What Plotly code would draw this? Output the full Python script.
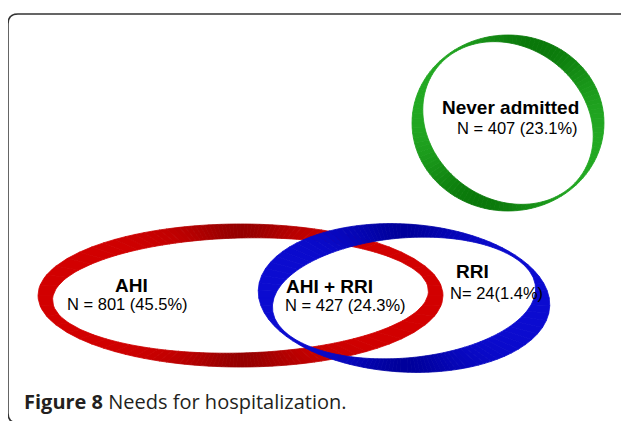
import numpy as np
import plotly.graph_objects as go

# ---------------- data ----------------
group_names = ["Never admitted", "AHI", "AHI + RRI", "RRI"]
group_counts = [407, 801, 427, 24]
group_pcts = [23.1, 45.5, 24.3, 1.4]
count_formats = ["N = {n} ({p}%)", "N = {n} ({p}%)", "N = {n} ({p}%)", "N= {n}({p}%)"]
caption_bold = "Figure 8"
caption_text = "Needs for hospitalization."

# ---------------- layout geometry (pixel space of the page) ----------------
name_x = [510, 131, 329, 472]
name_y = [107, 285, 286.5, 271]
count_x = [517, 127, 345, 496]
count_y = [128, 304, 305, 293]

ring_order = ["Never admitted", "AHI", "RRI"]
ring_cx = [508, 240.5, 404]
ring_cy = [123, 295.5, 298]
outer_a = [96, 202.5, 146]
outer_b = [88, 71.5, 74]
outer_rot = [0, 0, 3.5]
inner_a = [90, 188, 132]
inner_b = [76, 57.5, 60]
inner_rot = [37, -1.5, -5]
ring_light = ["#22a822", "#d20000", "#0b0bd0"]
ring_dark = ["#0a780a", "#960000", "#00009c"]
ring_dark_angle = [-70, -90, 90]

W, H = 629, 421
PAGE_MARGIN = 8  # default body margin of the html page


def polar_r(theta, a, b, rot_deg):
    d = theta - np.radians(rot_deg)
    return 1.0 / np.sqrt(np.cos(d) ** 2 / a ** 2 + np.sin(d) ** 2 / b ** 2)


def hex_rgb(h):
    h = h.lstrip("#")
    return np.array([int(h[i:i + 2], 16) for i in (0, 2, 4)], dtype=float)


def mix(c1, c2, w):
    c = hex_rgb(c1) * (1 - w) + hex_rgb(c2) * w
    return "rgb(%d,%d,%d)" % tuple(np.round(c).astype(int))


fig = go.Figure()

NSEG = 120
for i in range(len(ring_order)):
    edges = np.linspace(-np.pi, np.pi, NSEG + 1)
    for k in range(NSEG):
        th = np.linspace(edges[k], edges[k + 1], 4)
        ro = polar_r(th, outer_a[i], outer_b[i], outer_rot[i])
        ri = polar_r(th, inner_a[i], inner_b[i], inner_rot[i])
        xo = ring_cx[i] + ro * np.cos(th)
        yo = ring_cy[i] + ro * np.sin(th)
        xi = ring_cx[i] + ri * np.cos(th)
        yi = ring_cy[i] + ri * np.sin(th)
        xs = np.concatenate([xo, xi[::-1], xo[:1]])
        ys = np.concatenate([yo, yi[::-1], yo[:1]])
        mid = 0.5 * (edges[k] + edges[k + 1])
        w = ((1 + np.cos(2 * (mid - np.radians(ring_dark_angle[i])))) / 2) ** 1.5
        col = mix(ring_light[i], ring_dark[i], w)
        fig.add_trace(go.Scatter(
            x=xs, y=ys, mode="lines", fill="toself", fillcolor=col,
            line=dict(color=col, width=0.8), hoverinfo="skip", showlegend=False,
        ))

annotations = []
for i, name in enumerate(group_names):
    annotations.append(dict(
        x=name_x[i], y=name_y[i], xref="x", yref="y", text="<b>%s</b>" % name,
        showarrow=False, xanchor="center", yanchor="middle",
        font=dict(family="Liberation Sans, Arial, sans-serif", size=19, color="#000000"),
    ))
    annotations.append(dict(
        x=count_x[i], y=count_y[i], xref="x", yref="y",
        text=count_formats[i].format(n=group_counts[i], p=group_pcts[i]),
        showarrow=False, xanchor="center", yanchor="middle",
        font=dict(family="Liberation Sans, Arial, sans-serif", size=16.5, color="#000000"),
    ))

annotations.append(dict(
    x=22, y=401, xref="x", yref="y",
    text="<b>%s</b> %s" % (caption_bold, caption_text),
    showarrow=False, xanchor="left", yanchor="middle",
    font=dict(family="Open Sans, sans-serif", size=20, color="#231f20"),
))

x0, x1, y0, y1, r = 8, 630, 14, 423, 10
border = (f"M {x0 + r},{y0} L {x1 - r},{y0} Q {x1},{y0} {x1},{y0 + r} "
          f"L {x1},{y1 - r} Q {x1},{y1} {x1 - r},{y1} L {x0 + r},{y1} "
          f"Q {x0},{y1} {x0},{y1 - r} L {x0},{y0 + r} Q {x0},{y0} {x0 + r},{y0} Z")

fig.update_layout(
    width=W, height=H,
    margin=dict(l=0, r=0, t=0, b=0),
    paper_bgcolor="white", plot_bgcolor="white",
    showlegend=False,
    xaxis=dict(range=[PAGE_MARGIN, W + PAGE_MARGIN], visible=False, fixedrange=True),
    yaxis=dict(range=[H + PAGE_MARGIN, PAGE_MARGIN], visible=False, fixedrange=True),
    annotations=annotations,
    shapes=[dict(type="path", path=border, xref="x", yref="y",
                 line=dict(color="#333333", width=1.5), layer="below")],
)

fig.write_html(
    "out.html",
    post_script="document.documentElement.style.overflow='hidden';"
                "document.body.style.overflow='hidden';",
)
